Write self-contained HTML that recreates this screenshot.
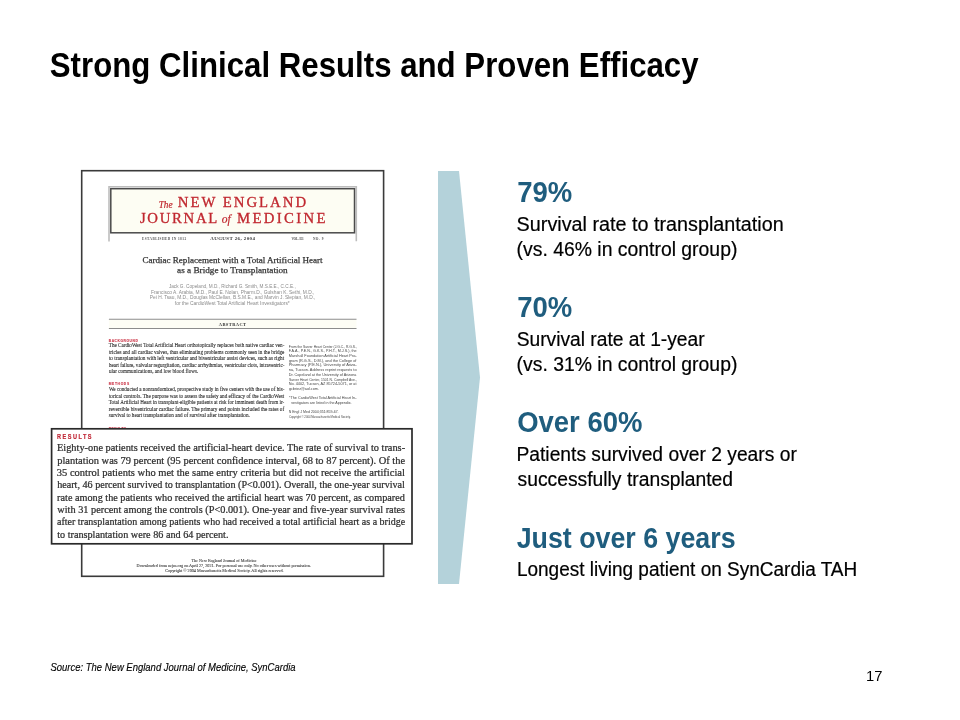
<!DOCTYPE html>
<html><head><meta charset="utf-8"><title>Strong Clinical Results and Proven Efficacy</title>
<style>
html,body{margin:0;padding:0;background:#fff;}
body{width:960px;height:720px;overflow:hidden;}
svg{display:block;will-change:transform;}
.S{font-family:"Liberation Sans",sans-serif;}
.R{font-family:"Liberation Serif",serif;}
</style></head>
<body>
<svg width="960" height="720" viewBox="0 0 960 720">
<defs>
<filter id="blur" x="-5%" y="-5%" width="110%" height="110%"><feGaussianBlur stdDeviation="0.35"/></filter>
<filter id="blur2" x="-5%" y="-5%" width="110%" height="110%"><feGaussianBlur stdDeviation="0.25"/></filter>
</defs>
<rect width="960" height="720" fill="#fff"/>
<g id="journal">

<!-- outer page frame -->
<rect x="81.7" y="170.7" width="301.9" height="405.6" fill="#fff" stroke="#3a3a3a" stroke-width="1.6"/>
<!-- masthead -->
<path d="M109 241.5 V186.8 H356.3 V241.3" fill="none" stroke="#bdbdbd" stroke-width="1.6"/>
<rect x="110.8" y="188.7" width="243.7" height="44.1" fill="#fdfdf3" stroke="#4a4a4a" stroke-width="1.5"/>
<!-- abstract bar -->
<rect x="108.9" y="319.4" width="247.6" height="9.0" fill="#fdfdf5"/>
<line x1="108.9" y1="319.3" x2="356.5" y2="319.3" stroke="#8c8c8c" stroke-width="1.1"/>
<line x1="108.9" y1="328.5" x2="356.5" y2="328.5" stroke="#8c8c8c" stroke-width="1.1"/>

<g filter="url(#blur)">
<text class="R" x="158.65" y="207.50" font-size="10.2" font-style="italic" fill="#c0282f" stroke="#c0282f" stroke-width="0.2" textLength="13.95" lengthAdjust="spacingAndGlyphs">The</text>
<text class="R" transform="translate(177.78 207.10) scale(1.07 1)" x="0.00" y="0.00" font-size="13.8" fill="#c0282f" stroke="#c0282f" stroke-width="0.3" textLength="119.92" lengthAdjust="spacing">NEW ENGLAND</text>
<text class="R" transform="translate(139.89 222.70) scale(1.07 1)" x="0.00" y="0.00" font-size="13.8" fill="#c0282f" stroke="#c0282f" stroke-width="0.3" textLength="72.42" lengthAdjust="spacing">JOURNAL</text>
<text class="R" x="221.82" y="223.00" font-size="12.6" font-style="italic" fill="#c0282f" stroke="#c0282f" stroke-width="0.2" textLength="9.00" lengthAdjust="spacingAndGlyphs">of</text>
<text class="R" transform="translate(236.98 222.70) scale(1.07 1)" x="0.00" y="0.00" font-size="13.8" fill="#c0282f" stroke="#c0282f" stroke-width="0.3" textLength="82.80" lengthAdjust="spacing">MEDICINE</text>
<text class="R" x="142.00" y="239.70" font-size="3.4" font-weight="bold" fill="#555" textLength="44.10" lengthAdjust="spacing">ESTABLISHED IN 1812</text>
<text class="R" x="210.20" y="239.60" font-size="4.9" font-weight="bold" fill="#333" textLength="44.65" lengthAdjust="spacing">AUGUST 26, 2004</text>
<text class="R" x="291.40" y="239.70" font-size="3.4" font-weight="bold" fill="#555" textLength="12.20" lengthAdjust="spacing">VOL. 351</text>
<text class="R" x="312.90" y="239.70" font-size="3.4" font-weight="bold" fill="#555" textLength="10.50" lengthAdjust="spacing">NO. 9</text>
<text class="R" x="142.40" y="263.00" font-size="8.9" fill="#333" stroke="#333" stroke-width="0.25" textLength="180.18" lengthAdjust="spacingAndGlyphs">Cardiac Replacement with a Total Artificial Heart</text>
<text class="R" x="177.09" y="273.10" font-size="8.9" fill="#333" stroke="#333" stroke-width="0.25" textLength="110.66" lengthAdjust="spacingAndGlyphs">as a Bridge to Transplantation</text>
<text class="S" x="168.90" y="287.80" font-size="5.3" fill="#8a8a8a" textLength="126.82" lengthAdjust="spacingAndGlyphs">Jack G. Copeland, M.D., Richard G. Smith, M.S.E.E., C.C.E.,</text>
<text class="S" x="151.04" y="293.60" font-size="5.3" fill="#8a8a8a" textLength="163.39" lengthAdjust="spacingAndGlyphs">Francisco A. Arabia, M.D., Paul E. Nolan, Pharm.D., Gulshan K. Sethi, M.D.,</text>
<text class="S" x="149.84" y="299.40" font-size="5.3" fill="#8a8a8a" textLength="165.60" lengthAdjust="spacingAndGlyphs">Pei H. Tsau, M.D., Douglas McClellan, B.S.M.E., and Marvin J. Slepian, M.D.,</text>
<text class="S" x="174.80" y="305.40" font-size="5.3" fill="#8a8a8a" textLength="114.96" lengthAdjust="spacingAndGlyphs">for the CardioWest Total Artificial Heart Investigators*</text>
<text class="R" x="218.80" y="325.60" font-size="4.5" font-weight="bold" fill="#333" textLength="27.30" lengthAdjust="spacing">ABSTRACT</text>
<text class="S" x="108.70" y="341.70" font-size="3.3" font-weight="bold" fill="#cc3a4c" stroke="#cc3a4c" stroke-width="0.12" textLength="29.18" lengthAdjust="spacing">BACKGROUND</text>
<text class="R" x="108.81" y="347.40" font-size="5.6" fill="#2a2a2a" stroke="#2a2a2a" stroke-width="0.1" textLength="175.54" lengthAdjust="spacingAndGlyphs">The CardioWest Total Artificial Heart orthotopically replaces both native cardiac ven-</text>
<text class="R" x="108.90" y="353.78" font-size="5.6" fill="#2a2a2a" stroke="#2a2a2a" stroke-width="0.1" textLength="175.47" lengthAdjust="spacingAndGlyphs">tricles and all cardiac valves, thus eliminating problems commonly seen in the bridge</text>
<text class="R" x="108.90" y="360.16" font-size="5.6" fill="#2a2a2a" stroke="#2a2a2a" stroke-width="0.1" textLength="175.26" lengthAdjust="spacingAndGlyphs">to transplantation with left ventricular and biventricular assist devices, such as right</text>
<text class="R" x="108.90" y="366.54" font-size="5.6" fill="#2a2a2a" stroke="#2a2a2a" stroke-width="0.1" textLength="175.45" lengthAdjust="spacingAndGlyphs">heart failure, valvular regurgitation, cardiac arrhythmias, ventricular clots, intraventric-</text>
<text class="R" x="108.90" y="372.92" font-size="5.6" fill="#2a2a2a" stroke="#2a2a2a" stroke-width="0.1" textLength="89.38" lengthAdjust="spacingAndGlyphs">ular communications, and low blood flows.</text>
<text class="S" x="108.70" y="385.30" font-size="3.3" font-weight="bold" fill="#cc3a4c" stroke="#cc3a4c" stroke-width="0.12" textLength="20.40" lengthAdjust="spacing">METHODS</text>
<text class="R" x="108.90" y="391.40" font-size="5.6" fill="#2a2a2a" stroke="#2a2a2a" stroke-width="0.1" textLength="175.45" lengthAdjust="spacingAndGlyphs">We conducted a nonrandomized, prospective study in five centers with the use of his-</text>
<text class="R" x="108.90" y="397.80" font-size="5.6" fill="#2a2a2a" stroke="#2a2a2a" stroke-width="0.1" textLength="175.26" lengthAdjust="spacingAndGlyphs">torical controls. The purpose was to assess the safety and efficacy of the CardioWest</text>
<text class="R" x="108.81" y="404.20" font-size="5.6" fill="#2a2a2a" stroke="#2a2a2a" stroke-width="0.1" textLength="175.54" lengthAdjust="spacingAndGlyphs">Total Artificial Heart in transplant-eligible patients at risk for imminent death from ir-</text>
<text class="R" x="108.81" y="410.60" font-size="5.6" fill="#2a2a2a" stroke="#2a2a2a" stroke-width="0.1" textLength="175.36" lengthAdjust="spacingAndGlyphs">reversible biventricular cardiac failure. The primary end points included the rates of</text>
<text class="R" x="108.72" y="417.00" font-size="5.6" fill="#2a2a2a" stroke="#2a2a2a" stroke-width="0.1" textLength="141.06" lengthAdjust="spacingAndGlyphs">survival to heart transplantation and of survival after transplantation.</text>
<text class="S" x="108.70" y="429.60" font-size="3.3" font-weight="bold" fill="#cc3a4c" stroke="#cc3a4c" stroke-width="0.12" textLength="17.40" lengthAdjust="spacing">RESULTS</text>
<text class="S" x="288.75" y="347.50" font-size="4.0" fill="#444" textLength="68.01" lengthAdjust="spacingAndGlyphs">From the Sarver Heart Center (J.G.C., R.G.S.,</text>
<text class="S" x="288.72" y="352.22" font-size="4.0" fill="#444" textLength="67.89" lengthAdjust="spacingAndGlyphs">F.A.A., P.E.N., G.K.S., P.H.T., M.J.S.), the</text>
<text class="S" x="288.71" y="356.94" font-size="4.0" fill="#444" textLength="67.91" lengthAdjust="spacingAndGlyphs">Marshall Foundation Artificial Heart Pro-</text>
<text class="S" x="288.90" y="361.66" font-size="4.0" fill="#444" textLength="67.51" lengthAdjust="spacingAndGlyphs">gram (R.G.S., D.M.), and the College of</text>
<text class="S" x="288.70" y="366.38" font-size="4.0" fill="#444" textLength="67.93" lengthAdjust="spacingAndGlyphs">Pharmacy (P.E.N.), University of Arizo-</text>
<text class="S" x="288.81" y="371.10" font-size="4.0" fill="#444" textLength="67.81" lengthAdjust="spacingAndGlyphs">na, Tucson. Address reprint requests to</text>
<text class="S" x="288.72" y="375.82" font-size="4.0" fill="#444" textLength="67.71" lengthAdjust="spacingAndGlyphs">Dr. Copeland at the University of Arizona</text>
<text class="S" x="288.92" y="380.54" font-size="4.0" fill="#444" textLength="67.85" lengthAdjust="spacingAndGlyphs">Sarver Heart Center, 1501 N. Campbell Ave.,</text>
<text class="S" x="288.72" y="385.26" font-size="4.0" fill="#444" textLength="67.80" lengthAdjust="spacingAndGlyphs">No. 4402, Tucson, AZ 85724-5071, or at</text>
<text class="S" x="288.91" y="389.98" font-size="4.0" fill="#444" textLength="30.09" lengthAdjust="spacingAndGlyphs">gcbriez@aol.com.</text>
<text class="S" x="289.00" y="399.10" font-size="4.0" fill="#444" textLength="67.42" lengthAdjust="spacingAndGlyphs">*The CardioWest Total Artificial Heart In-</text>
<text class="S" x="291.20" y="403.90" font-size="4.0" fill="#444" textLength="60.28" lengthAdjust="spacingAndGlyphs">vestigators are listed in the Appendix.</text>
<text class="S" x="288.74" y="413.40" font-size="4.0" fill="#444" textLength="49.84" lengthAdjust="spacingAndGlyphs">N Engl J Med 2004;351:859-67.</text>
<text class="S" x="288.92" y="417.80" font-size="3.4" fill="#444" textLength="61.68" lengthAdjust="spacingAndGlyphs">Copyright © 2004 Massachusetts Medical Society.</text>
<text class="R" x="191.50" y="561.60" font-size="4.9" fill="#333" stroke="#333" stroke-width="0.08" textLength="65.06" lengthAdjust="spacingAndGlyphs">The New England Journal of Medicine</text>
<text class="R" x="136.61" y="566.70" font-size="4.9" fill="#333" stroke="#333" stroke-width="0.08" textLength="174.18" lengthAdjust="spacingAndGlyphs">Downloaded from nejm.org on April 27, 2021. For personal use only. No other uses without permission.</text>
<text class="R" x="165.23" y="571.70" font-size="4.9" fill="#333" stroke="#333" stroke-width="0.08" textLength="118.46" lengthAdjust="spacingAndGlyphs">Copyright © 2004 Massachusetts Medical Society. All rights reserved.</text>
</g>
</g>
<!-- results callout -->
<rect x="51.6" y="428.8" width="360.4" height="115.0" fill="#fff" stroke="#2a2a2a" stroke-width="1.7"/>
<g filter="url(#blur2)">
<text class="S" transform="translate(56.97 438.50) scale(0.82 1)" x="0.00" y="0.00" font-size="6.8" font-weight="bold" fill="#c02a38" stroke="#c02a38" stroke-width="0.2" textLength="42.22" lengthAdjust="spacing">RESULTS</text>
<text class="R" x="57.00" y="451.30" font-size="10.5" fill="#2e2e2e" stroke="#2e2e2e" stroke-width="0.24" textLength="348.09" lengthAdjust="spacingAndGlyphs">Eighty-one patients received the artificial-heart device. The rate of survival to trans-</text>
<text class="R" x="57.20" y="463.64" font-size="10.5" fill="#2e2e2e" stroke="#2e2e2e" stroke-width="0.24" textLength="347.96" lengthAdjust="spacingAndGlyphs">plantation was 79 percent (95 percent confidence interval, 68 to 87 percent). Of the</text>
<text class="R" x="56.80" y="475.98" font-size="10.5" fill="#2e2e2e" stroke="#2e2e2e" stroke-width="0.24" textLength="348.12" lengthAdjust="spacingAndGlyphs">35 control patients who met the same entry criteria but did not receive the artificial</text>
<text class="R" x="57.20" y="488.32" font-size="10.5" fill="#2e2e2e" stroke="#2e2e2e" stroke-width="0.24" textLength="347.71" lengthAdjust="spacingAndGlyphs">heart, 46 percent survived to transplantation (P&lt;0.001). Overall, the one-year survival</text>
<text class="R" x="57.11" y="500.66" font-size="10.5" fill="#2e2e2e" stroke="#2e2e2e" stroke-width="0.24" textLength="347.74" lengthAdjust="spacingAndGlyphs">rate among the patients who received the artificial heart was 70 percent, as compared</text>
<text class="R" x="57.30" y="513.00" font-size="10.5" fill="#2e2e2e" stroke="#2e2e2e" stroke-width="0.24" textLength="347.78" lengthAdjust="spacingAndGlyphs">with 31 percent among the controls (P&lt;0.001). One-year and five-year survival rates</text>
<text class="R" x="57.01" y="525.34" font-size="10.5" fill="#2e2e2e" stroke="#2e2e2e" stroke-width="0.24" textLength="348.13" lengthAdjust="spacingAndGlyphs">after transplantation among patients who had received a total artificial heart as a bridge</text>
<text class="R" x="57.20" y="537.68" font-size="10.5" fill="#2e2e2e" stroke="#2e2e2e" stroke-width="0.24" textLength="171.30" lengthAdjust="spacingAndGlyphs">to transplantation were 86 and 64 percent.</text>
</g>
<!-- chevron -->
<polygon points="438,171 459,171 480,377.5 459,584 438,584" fill="#b4d2da"/>
<text class="S" x="49.81" y="77.00" font-size="34.9" font-weight="bold" fill="#000" textLength="648.79" lengthAdjust="spacingAndGlyphs">Strong Clinical Results and Proven Efficacy</text>
<text class="S" x="517.24" y="202.00" font-size="29" font-weight="bold" fill="#1f5d7e" textLength="55.05" lengthAdjust="spacingAndGlyphs">79%</text>
<text class="S" x="516.61" y="230.60" font-size="20" fill="#000" stroke="#000" stroke-width="0.2" textLength="267.10" lengthAdjust="spacingAndGlyphs">Survival rate to transplantation</text>
<text class="S" x="516.59" y="256.20" font-size="20" fill="#000" stroke="#000" stroke-width="0.2" textLength="220.79" lengthAdjust="spacingAndGlyphs">(vs. 46% in control group)</text>
<text class="S" x="517.24" y="317.20" font-size="29" font-weight="bold" fill="#1f5d7e" textLength="55.05" lengthAdjust="spacingAndGlyphs">70%</text>
<text class="S" x="516.64" y="345.80" font-size="20" fill="#000" stroke="#000" stroke-width="0.2" textLength="188.01" lengthAdjust="spacingAndGlyphs">Survival rate at 1-year</text>
<text class="S" x="516.59" y="371.40" font-size="20" fill="#000" stroke="#000" stroke-width="0.2" textLength="220.79" lengthAdjust="spacingAndGlyphs">(vs. 31% in control group)</text>
<text class="S" x="517.14" y="432.40" font-size="29" font-weight="bold" fill="#1f5d7e" textLength="125.25" lengthAdjust="spacingAndGlyphs">Over 60%</text>
<text class="S" x="516.46" y="460.70" font-size="20" fill="#000" stroke="#000" stroke-width="0.2" textLength="280.39" lengthAdjust="spacingAndGlyphs">Patients survived over 2 years or</text>
<text class="S" x="517.52" y="486.30" font-size="20" fill="#000" stroke="#000" stroke-width="0.2" textLength="215.56" lengthAdjust="spacingAndGlyphs">successfully transplanted</text>
<text class="S" x="516.70" y="547.50" font-size="29" font-weight="bold" fill="#1f5d7e" textLength="218.89" lengthAdjust="spacingAndGlyphs">Just over 6 years</text>
<text class="S" x="516.88" y="575.90" font-size="20" fill="#000" stroke="#000" stroke-width="0.2" textLength="340.38" lengthAdjust="spacingAndGlyphs">Longest living patient on SynCardia TAH</text>
<text class="S" x="50.51" y="670.60" font-size="10.2" font-style="italic" fill="#000" stroke="#000" stroke-width="0.12" textLength="245.04" lengthAdjust="spacingAndGlyphs">Source: The New England Journal of Medicine, SynCardia</text>
<text class="S" x="866.10" y="681.10" font-size="14.8" fill="#000" textLength="16.43" lengthAdjust="spacingAndGlyphs">17</text>
</svg>
</body></html>
